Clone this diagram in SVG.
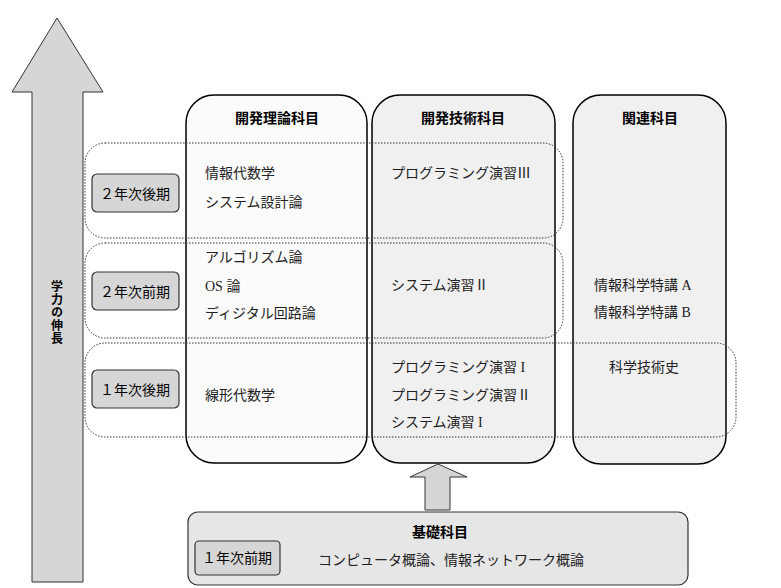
<svg xmlns="http://www.w3.org/2000/svg" width="781" height="588" viewBox="0 0 781 588">
<style>
.col{stroke:#000;stroke-width:1.5}
.band{fill:none;stroke:#333;stroke-width:1;stroke-dasharray:1.5 1.5}
.lb{fill:#d6d6d6;stroke:#333;stroke-width:1.2}
.h{font-family:"Noto Sans CJK JP",sans-serif;font-weight:bold;font-size:14px;text-anchor:middle}
.l{font-family:"Noto Sans CJK JP",sans-serif;font-size:14px;text-anchor:middle}
.t{font-family:"Liberation Serif","Noto Sans CJK JP",serif;font-size:14px;fill:#222}
</style>
<rect width="781" height="588" fill="#fff"/>
<g id="growth">
<polygon points="57,18 103,92 83,92 83,582 32,582 32,92 12,92" fill="#d6d6d6" stroke="#333" stroke-width="1"/>
<text class="l" x="57" y="280" style="font-weight:bold;font-size:12px;writing-mode:vertical-rl;text-anchor:start;letter-spacing:1px">学力の伸長</text>
</g>
<g id="col1"><rect class="col" x="186" y="95" width="181" height="368" rx="28" fill="#fbfbfb"/><text class="h" x="277" y="123">開発理論科目</text></g>
<g id="col2"><rect class="col" x="372" y="95" width="183" height="368" rx="28" fill="#f0f0f0"/><text class="h" x="463" y="123">開発技術科目</text></g>
<g id="col3"><rect class="col" x="573" y="95" width="153" height="369" rx="28" fill="#f0f0f0"/><text class="h" x="650" y="123">関連科目</text></g>
<g id="row1"><rect class="band" x="85" y="143" width="478" height="95" rx="20"/><rect class="lb" x="92" y="174" width="87" height="38" rx="5"/><text class="l" x="135" y="199">２年次後期</text></g>
<g id="row2"><rect class="band" x="85" y="243" width="478" height="95" rx="20"/><rect class="lb" x="92" y="272" width="87" height="38" rx="5"/><text class="l" x="135" y="297">２年次前期</text></g>
<g id="row3"><rect class="band" x="85" y="343" width="651" height="94" rx="20"/><rect class="lb" x="92" y="370" width="87" height="38" rx="5"/><text class="l" x="135" y="395">１年次後期</text></g>
<g id="texts">
<text class="t" x="205" y="178">情報代数学</text>
<text class="t" x="205" y="207">システム設計論</text>
<text class="t" x="205" y="262">アルゴリズム論</text>
<text class="t" x="205" y="291">OS 論</text>
<text class="t" x="205" y="318">ディジタル回路論</text>
<text class="t" x="205" y="400">線形代数学</text>
<text class="t" x="391" y="178">プログラミング演習Ⅲ</text>
<text class="t" x="391" y="290">システム演習Ⅱ</text>
<text class="t" x="391" y="372">プログラミング演習 I</text>
<text class="t" x="391" y="400">プログラミング演習Ⅱ</text>
<text class="t" x="391" y="427">システム演習 I</text>
<text class="t" x="594" y="290">情報科学特講 A</text>
<text class="t" x="594" y="317">情報科学特講 B</text>
<text class="t" x="609" y="372">科学技術史</text>
</g>
<g id="connectors"><polygon points="438,464 467,477 450,477 450,510 425,510 425,477 410,477" fill="#d6d6d6" stroke="#333" stroke-width="1"/></g>
<g id="basic">
<rect x="188" y="512" width="500" height="73" rx="10" fill="#e6e6e6" stroke="#333" stroke-width="1.2"/>
<text class="h" x="440" y="537">基礎科目</text>
<rect class="lb" x="195" y="541" width="85" height="34" rx="4"/><text class="l" x="237" y="563">１年次前期</text>
<text class="t" x="318" y="565">コンピュータ概論、情報ネットワーク概論</text>
</g>
</svg>
